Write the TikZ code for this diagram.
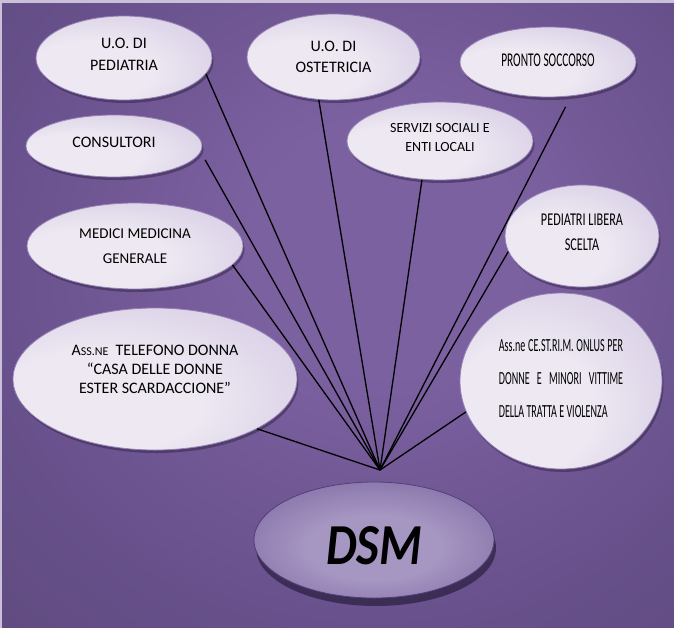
\documentclass[tikz,border=0pt]{standalone}
\usepackage{fontspec}
\usepackage{graphicx}
\setmainfont{Carlito}
\usetikzlibrary{shapes.geometric,shadows}
\definecolor{bgC}{HTML}{7C61A0}
\definecolor{bgM}{HTML}{68518C}
\definecolor{bgE}{HTML}{5C4879}
\definecolor{bgK}{HTML}{574373}
\definecolor{bubL}{HTML}{EDE8F2}
\definecolor{bubM}{HTML}{D3C8E2}
\definecolor{bubR}{HTML}{A694C3}
\definecolor{bubRim}{HTML}{9580B5}
\definecolor{shadowC}{HTML}{36284C}
\definecolor{dsmIn}{HTML}{A696C2}
\definecolor{dsmMid}{HTML}{806CA4}
\definecolor{dsmOut}{HTML}{604B84}
\definecolor{dsmRim}{HTML}{53407A}
\definecolor{dsmShadow}{HTML}{382A50}
\definecolor{stripC}{HTML}{CBC0DA}
\definecolor{txtC}{HTML}{000000}
\pgfdeclareradialshading{bgshade}{\pgfpoint{4bp}{6bp}}{color(0bp)=(bgC); color(10bp)=(bgC); color(28bp)=(bgM); color(46bp)=(bgE); color(85bp)=(bgK)}
\pgfdeclareradialshading{bubshade}{\pgfpoint{-12bp}{-10bp}}{color(0bp)=(bubL); color(18bp)=(bubL); color(44bp)=(bubM); color(62bp)=(bubR); color(95bp)=(bubR)}
\pgfdeclareradialshading{dsmshade}{\pgfpoint{0bp}{-4bp}}{color(0bp)=(dsmIn); color(14bp)=(dsmIn); color(34bp)=(dsmMid); color(50bp)=(dsmOut); color(75bp)=(dsmOut)}
\newcommand\cnd[2]{\scalebox{#1}[1]{#2}}
\tikzset{
  bubble/.style={ellipse, inner sep=0pt, shade, shading=bubshade, draw=bubRim, line width=0.8pt,
    drop shadow={shadow xshift=1.5pt, shadow yshift=-3pt, fill=shadowC, opacity=0.55}},
  dsmnode/.style={ellipse, inner sep=0pt, shade, shading=dsmshade, draw=dsmRim, line width=0.8pt,
    drop shadow={shadow xshift=2pt, shadow yshift=-8pt, fill=dsmShadow, opacity=0.9}},
  lbl/.style={text=txtC, align=center, inner sep=0pt},
  conn/.style={draw=black, line width=1.3pt},
}
\begin{document}
\begin{tikzpicture}[x=1pt, y=-1pt]
\useasboundingbox (0,0) rectangle (674,627);
\fill[bgK] (-4,-4) rectangle (678,631);
\shade[shading=bgshade] (-2,-2) rectangle (676,629);
\fill[stripC] (-4,-4) rectangle (678,3);
\fill[stripC] (-4,-4) rectangle (2,631);

\node[bubble, minimum width=176pt, minimum height=84pt,
  label={[lbl, yshift=4pt, font=\fontsize{16}{22}\selectfont]center:{U.O. DI\\PEDIATRIA}}] (ped) at (124,58) {};
\node[bubble, minimum width=173pt, minimum height=86pt,
  label={[lbl, font=\fontsize{16}{21}\selectfont]center:{U.O. DI\\OSTETRICIA}}] (ost) at (333.5,57) {};
\node[bubble, minimum width=176pt, minimum height=70pt,
  label={[lbl, yshift=2pt, font=\fontsize{19.5}{21}\selectfont]center:{\cnd{0.585}{PRONTO SOCCORSO}}}] (pron) at (548,62) {};
\node[bubble, minimum width=176pt, minimum height=62pt,
  label={[lbl, yshift=4pt, font=\fontsize{16}{20}\selectfont]center:{CONSULTORI}}] (cons) at (114,146) {};
\node[bubble, minimum width=186pt, minimum height=78pt,
  label={[lbl, yshift=3.5pt, font=\fontsize{14}{19}\selectfont]center:{SERVIZI SOCIALI E\\ENTI LOCALI}}] (serv) at (440,141) {};
\node[bubble, minimum width=216pt, minimum height=86pt,
  label={[lbl, font=\fontsize{15}{25}\selectfont]center:{MEDICI MEDICINA\\GENERALE}}] (med) at (135,246) {};
\node[bubble, minimum width=154pt, minimum height=102pt,
  label={[lbl, yshift=3.5pt, font=\fontsize{18}{25}\selectfont]center:{\cnd{0.68}{PEDIATRI LIBERA}\\\cnd{0.68}{SCELTA}}}] (pls) at (582,236) {};
\node[bubble, minimum width=284pt, minimum height=142pt,
  label={[lbl, yshift=10pt, font=\fontsize{16}{19}\selectfont]center:{A{\fontsize{12}{19}\selectfont SS.NE}\ \ TELEFONO DONNA\\“CASA DELLE DONNE\\ESTER SCARDACCIONE”}}] (tel) at (155,379) {};
\node[bubble, minimum width=202pt, minimum height=176pt,
  label={[lbl, align=left, yshift=2.5pt, font=\fontsize{18.5}{33}\selectfont]center:{\cnd{0.545}{\makebox[228pt][s]{Ass.ne CE.ST.RI.M. ONLUS PER}}\\\cnd{0.545}{\makebox[228pt][s]{DONNE E MINORI VITTIME}}\\\cnd{0.545}{DELLA TRATTA E VIOLENZA}}}] (ces) at (561,381) {};

\node[dsmnode, minimum width=240pt, minimum height=116pt,
  label={[lbl, yshift=-6pt, font=\fontsize{58}{60}\selectfont\bfseries\itshape]center:{\cnd{0.84}{DSM}}}] (dsm) at (374,540) {};

\coordinate (hub) at (380,470);
\draw[conn] (ped.-11) -- (hub);
\draw[conn] (ost.-109) -- (hub);
\draw[conn, shorten <=12pt] (pron.-56) -- (hub);
\draw[conn, shorten <=9pt] (cons.-4) -- (hub);
\draw[conn] (serv.-115) -- (hub);
\draw[conn] (med.-11) -- (hub);
\draw[conn] (pls.-168) -- (hub);
\draw[conn] (tel.-26) -- (hub);
\draw[conn] (ces.-162) -- (hub);
\end{tikzpicture}
\end{document}
